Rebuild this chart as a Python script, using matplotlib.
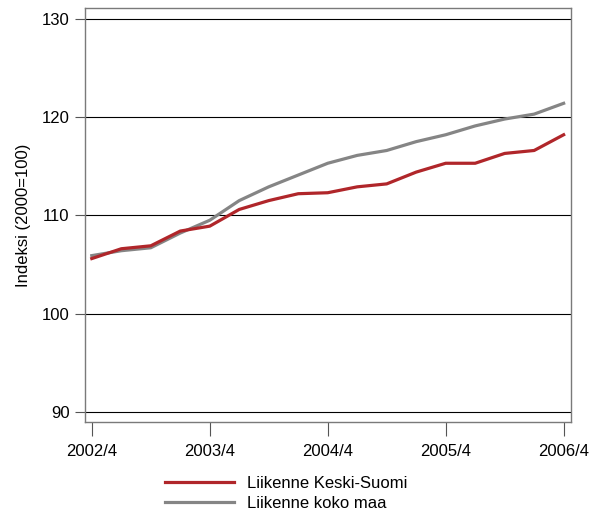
import matplotlib.pyplot as plt

plt.rcParams['font.family'] = ['Liberation Sans', 'DejaVu Sans']

quarters = list(range(17))
tick_pos = [0, 4, 8, 12, 16]
tick_labels = ["2002/4", "2003/4", "2004/4", "2005/4", "2006/4"]

keski_suomi = [105.6, 106.6, 106.9, 108.4, 108.9, 110.6, 111.5, 112.2, 112.3,
               112.9, 113.2, 114.4, 115.3, 115.3, 116.3, 116.6, 118.2]
koko_maa = [105.9, 106.4, 106.7, 108.2, 109.5, 111.5, 112.9, 114.1, 115.3,
            116.1, 116.6, 117.5, 118.2, 119.1, 119.8, 120.3, 121.4]

fig = plt.figure(figsize=(6, 5.13), dpi=100)
ax = fig.add_axes([0.1417, 0.178, 0.8095, 0.8064])

for y in [90, 100, 110, 120, 130]:
    ax.axhline(y, color="black", linewidth=0.8, zorder=1)

ax.plot(quarters, keski_suomi, color="#b0262a", linewidth=2.3, label="Liikenne Keski-Suomi", zorder=3)
ax.plot(quarters, koko_maa, color="#858585", linewidth=2.3, label="Liikenne koko maa", zorder=2)

ax.set_xlim(-0.23, 16.24)
ax.set_ylim(89.0, 131.1)
ax.set_yticks([90, 100, 110, 120, 130])
ax.set_xticks(tick_pos)
ax.set_xticklabels(tick_labels)

for s in ax.spines.values():
    s.set_color("#7a7a7a")
    s.set_linewidth(1.0)

ax.tick_params(axis="y", length=7, width=0.8, color="#555555", labelsize=12, pad=4)
ax.tick_params(axis="x", length=10, width=0.8, color="#555555", labelsize=12, pad=6)
ax.set_ylabel("Indeksi (2000=100)", fontsize=12, labelpad=8)

fig.legend(loc="center", bbox_to_anchor=(0.477, 0.0376), frameon=False, fontsize=12,
           handlelength=4.1, handletextpad=0.8, labelspacing=0.3)

fig.savefig("out.png", dpi=100)
